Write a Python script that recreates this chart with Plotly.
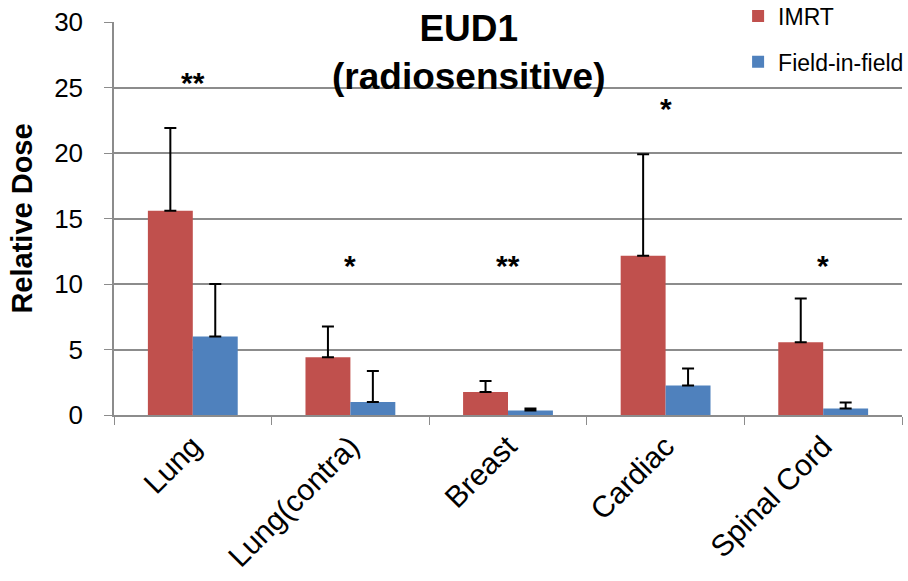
import plotly.graph_objects as go

# EUD1 relative dose per organ, mean and upper standard deviation
categories = ["Lung", "Lung(contra)", "Breast", "Cardiac", "Spinal Cord"]
imrt_mean = [15.6, 4.4, 1.75, 12.15, 5.55]
imrt_err = [6.3, 2.35, 0.85, 7.75, 3.35]
fif_mean = [6.0, 1.0, 0.35, 2.25, 0.5]
fif_err = [4.0, 2.35, 0.15, 1.3, 0.45]
significance = ["**", "*", "**", "*", "*"]
sig_y = [24.0, 10.0, 10.0, 22.0, 10.0]

y_ticks = [0, 5, 10, 15, 20, 25, 30]

FONT = "Liberation Sans, Arial, sans-serif"
GRID = "#8c8c8c"

fig = go.Figure()
fig.add_trace(go.Bar(
    x=categories, y=imrt_mean, name="IMRT",
    marker=dict(color="#C0504D", line=dict(width=0)),
    error_y=dict(type="data", symmetric=False, array=imrt_err,
                 arrayminus=[0] * len(imrt_err),
                 color="black", thickness=2, width=6),
    legendgroup="a",
))
fig.add_trace(go.Bar(
    x=categories, y=fif_mean, name="Field-in-field",
    marker=dict(color="#4F81BD", line=dict(width=0)),
    error_y=dict(type="data", symmetric=False, array=fif_err,
                 arrayminus=[0] * len(fif_err),
                 color="black", thickness=2, width=6),
    legendgroup="b",
))

# significance markers above each organ
for cat, s, yv in zip(categories, significance, sig_y):
    fig.add_annotation(x=cat, y=yv, text=f"<b>{s}</b>", showarrow=False,
                       font=dict(family=FONT, size=30, color="black"),
                       yanchor="bottom")

fig.add_annotation(xref="paper", yref="paper", x=0.45, y=1.04,
                   text="<b>EUD1<br>(radiosensitive)</b>", showarrow=False,
                   font=dict(family=FONT, size=37, color="black"),
                   yanchor="top", align="center")

fig.update_layout(
    width=908, height=581,
    margin=dict(l=114, r=6, t=22, b=166, autoexpand=False),
    paper_bgcolor="white", plot_bgcolor="white",
    barmode="group", bargap=0.43, bargroupgap=0,
    font=dict(family=FONT, color="black"),
    legend=dict(x=0.792, y=1.07, xanchor="left", yanchor="top",
                bgcolor="rgba(0,0,0,0)", font=dict(family=FONT, size=23),
                traceorder="grouped", tracegroupgap=13,
                itemwidth=30),
    showlegend=True,
)
fig.update_xaxes(
    type="category", tickangle=-45, tickfont=dict(family=FONT, size=30),
    showline=True, linecolor=GRID, linewidth=1.5,
    ticks="outside", tickson="boundaries", ticklen=8, tickcolor=GRID,
    showgrid=False,
)
fig.update_yaxes(
    range=[0, 30], tickvals=y_ticks, tickfont=dict(family=FONT, size=26),
    showline=True, linecolor=GRID, linewidth=1.5,
    ticks="outside", ticklen=8, tickcolor=GRID, ticklabelstandoff=16,
    showgrid=True, gridcolor=GRID, gridwidth=1.5, zeroline=False,
    title=dict(text="<b>Relative Dose</b>", font=dict(family=FONT, size=29),
               standoff=13),
)

fig.write_html("out.html")
